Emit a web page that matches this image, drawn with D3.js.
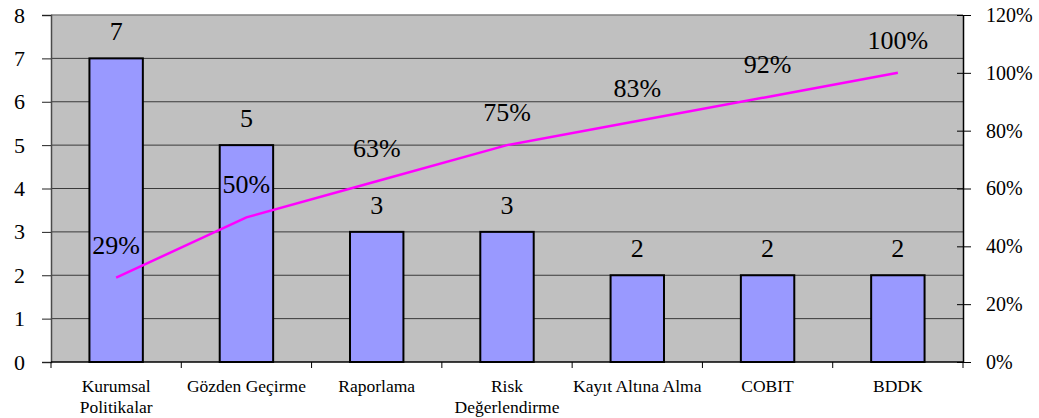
<!DOCTYPE html>
<html>
<head>
<meta charset="utf-8">
<script src="https://cdn.jsdelivr.net/npm/d3@7"></script>
<style>
  html, body { margin: 0; padding: 0; background: #fff; }
  svg { display: block; }
</style>
</head>
<body>
<svg id="chart" width="1039" height="418"></svg>
<script>
// Category names (line breaks mark where the axis label wraps)
const categories = [
  "Kurumsal\nPolitikalar",
  "Gözden Geçirme",
  "Raporlama",
  "Risk\nDeğerlendirme",
  "Kayıt Altına Alma",
  "COBIT",
  "BDDK"
];
// Count per category
const counts = [7, 5, 3, 3, 2, 2, 2];
// Cumulative share (%) per category
const cumulative = [29.17, 50, 62.5, 75, 83.33, 91.67, 100];
// Axis ticks
const leftTicks = [0, 1, 2, 3, 4, 5, 6, 7, 8];
const rightTicks = [0, 20, 40, 60, 80, 100, 120];

const FONT = "'Liberation Serif', 'DejaVu Serif', serif";

const svg = d3.select("#chart").style("font-family", FONT);
const m = { left: 51, right: 963, top: 15, bottom: 362 };

const x = d3.scaleBand().domain(categories).range([m.left, m.right]).padding(0);
const yL = d3.scaleLinear().domain([0, 8]).range([m.bottom, m.top]);
const yR = d3.scaleLinear().domain([0, 120]).range([m.bottom, m.top]);

// Plot background
svg.append("rect")
  .attr("x", m.left).attr("y", m.top)
  .attr("width", m.right - m.left).attr("height", m.bottom - m.top)
  .attr("fill", "#c0c0c0");

// Horizontal gridlines
svg.append("g").selectAll("line")
  .data(leftTicks.filter(d => d > 0 && d < 8))
  .join("line")
  .attr("x1", m.left).attr("x2", m.right)
  .attr("y1", d => yL(d)).attr("y2", d => yL(d))
  .attr("stroke", "#3a3a3a").attr("stroke-width", 1);

// Top border
svg.append("line")
  .attr("x1", m.left).attr("x2", m.right)
  .attr("y1", m.top).attr("y2", m.top)
  .attr("stroke", "#808080").attr("stroke-width", 1.5);

// Bars
const barW = x.bandwidth() * 0.41;
svg.append("g").selectAll("rect")
  .data(counts)
  .join("rect")
  .attr("x", (d, i) => x(categories[i]) + x.bandwidth() / 2 - barW / 2)
  .attr("y", d => yL(d))
  .attr("width", barW)
  .attr("height", d => yL(0) - yL(d))
  .attr("fill", "#9999ff")
  .attr("stroke", "#000").attr("stroke-width", 2);

// Left axis
const leftAxis = svg.append("g")
  .attr("transform", `translate(${m.left},0)`)
  .call(d3.axisLeft(yL).tickValues(leftTicks).tickSize(9).tickPadding(17).tickFormat(d3.format("d")));
leftAxis.attr("font-family", null).attr("font-size", null);
leftAxis.select(".domain").attr("stroke", "#4a4a4a").attr("stroke-width", 1.5);
leftAxis.selectAll(".tick line").attr("stroke", "#222");
leftAxis.selectAll("text").style("font-family", FONT).style("font-size", "22px").attr("fill", "#000");

// Right axis (ticks cross the axis line)
const rightAxis = svg.append("g")
  .attr("transform", `translate(${m.right},0)`)
  .call(d3.axisRight(yR).tickValues(rightTicks).tickSizeInner(8).tickSizeOuter(0).tickPadding(15)
    .tickFormat(d => d + "%"));
rightAxis.attr("font-family", null).attr("font-size", null);
rightAxis.select(".domain").attr("stroke", "#000").attr("stroke-width", 1.5);
rightAxis.selectAll(".tick line").attr("x1", -6).attr("stroke", "#000");
rightAxis.selectAll("text").style("font-family", FONT).style("font-size", "20px").attr("fill", "#000");

// Bottom axis: ticks at category boundaries
const bounds = categories.map(c => x(c)).concat([m.right]);
svg.append("line")
  .attr("x1", m.left).attr("x2", m.right)
  .attr("y1", m.bottom).attr("y2", m.bottom)
  .attr("stroke", "#000").attr("stroke-width", 1.5);
svg.append("g").selectAll("line")
  .data(bounds)
  .join("line")
  .attr("x1", d => d).attr("x2", d => d)
  .attr("y1", m.bottom).attr("y2", m.bottom + 6)
  .attr("stroke", "#000").attr("stroke-width", 1);

// Category labels
svg.append("g").selectAll("text")
  .data(categories)
  .join("text")
  .attr("text-anchor", "middle")
  .style("font-family", FONT)
  .style("font-size", "17.5px")
  .each(function (d) {
    const t = d3.select(this);
    d.split("\n").forEach((line, k) => {
      t.append("tspan")
        .attr("x", x(d) + x.bandwidth() / 2)
        .attr("y", 392 + k * 21)
        .text(line);
    });
  });

// Bar value labels
svg.append("g").selectAll("text")
  .data(counts)
  .join("text")
  .attr("x", (d, i) => x(categories[i]) + x.bandwidth() / 2)
  .attr("y", d => yL(d) - 18)
  .attr("text-anchor", "middle")
  .style("font-family", FONT)
  .style("font-size", "26px")
  .text(d => d);

// Cumulative line
const line = d3.line()
  .x((d, i) => x(categories[i]) + x.bandwidth() / 2)
  .y(d => yR(d));
svg.append("path")
  .datum(cumulative)
  .attr("d", line)
  .attr("fill", "none")
  .attr("stroke", "#ff00ff")
  .attr("stroke-width", 2.5);

// Cumulative labels
svg.append("g").selectAll("text")
  .data(cumulative)
  .join("text")
  .attr("x", (d, i) => x(categories[i]) + x.bandwidth() / 2)
  .attr("y", d => yR(d) - 24)
  .attr("text-anchor", "middle")
  .style("font-family", FONT)
  .style("font-size", "26px")
  .text(d => Math.round(d) + "%");
</script>
</body>
</html>
